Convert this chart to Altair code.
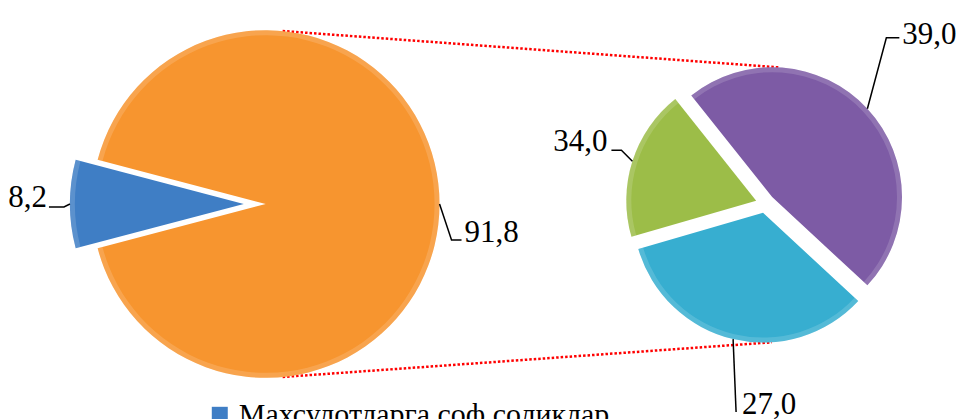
import math
import altair as alt
import pandas as pd

# ---------------- data ----------------
left_keys = ["Махсулотларга соф соликлар", "Бошқа"]
left_values = [8.2, 91.8]
left_text = ["8,2", "91,8"]
left_colors = ["#3F7EC5", "#F7952F"]

right_keys = ["p1", "p2", "p3"]
right_values = [47.6, 33.6, 18.8]          # slice sizes as drawn
right_text = ["39,0", "27,0", "34,0"]
right_colors = ["#7D5BA5", "#37AED0", "#9CBD48"]

legend_values = ["Махсулотларга соф соликлар"]

FONT = "Liberation Serif"

# ---------------- layout (screen px) ----------------
W, H = 949, 403
LEFT = dict(cx=266, cy=204, r=174, start=75 - 8.2 / 2, explode=[22, 0])
RIGHT = dict(cx=766, cy=203.5, r=130, start=89.3, explode=[9.5, 9.5, 9.5])

# label leader bends (relative to the arc point) and text anchors
left_leader = [[(-6, 3), (-21, 3)], [(12, 36), (22, 36)]]
left_anchor = [(-23, 3, "right"), (25, 38, "left")]
right_leader = [[(19, -71), (32, -71)], [(3, 73)], [(-11, -11), (-21, -11)]]
right_anchor = [(35, -65, "left"), (9, 75, "left"), (-25, -10, "right")]


def slices(keys, values, text, geo, leaders, anchors, pie):
    rows, lead, labs = [], [], []
    s = geo["start"]
    for i, (k, v, t) in enumerate(zip(keys, values, text)):
        e = s + v
        mid = (s + e) / 2 / 100 * 2 * math.pi
        d = geo["explode"][i]
        cx = geo["cx"] + d * math.sin(mid)
        cy = geo["cy"] - d * math.cos(mid)
        rows.append(dict(key=k, start=s, end=e, cx=cx, cy=cy))
        px = cx + geo["r"] * math.sin(mid)
        py = cy - geo["r"] * math.cos(mid)
        pts = [(px, py)] + [(px + dx, py + dy) for dx, dy in leaders[i]]
        for j, (x, y) in enumerate(pts):
            lead.append(dict(id=f"{pie}{i}", seq=j, x=x, y=y))
        ax, ay, al = anchors[i]
        labs.append(dict(x=px + ax, y=py + ay, text=t, align=al))
        s = e
    return pd.DataFrame(rows), lead, labs


ldf, llead, llabs = slices(left_keys, left_values, left_text, LEFT,
                           left_leader, left_anchor, "L")
rdf, rlead, rlabs = slices(right_keys, right_values, right_text, RIGHT,
                           right_leader, right_anchor, "R")
lead_df = pd.DataFrame(llead + rlead)
lab_df = pd.DataFrame(llabs + rlabs)

# connector lines between the pies (angles on each pie, percent of turn)
conn = []
for n, (a_left, a_right) in enumerate([(1.55, 0.9), (48.45, 48.9)]):
    al = a_left / 100 * 2 * math.pi
    ar = a_right / 100 * 2 * math.pi
    rc = rdf.iloc[0] if n == 0 else rdf.iloc[1]
    conn.append(dict(
        x=LEFT["cx"] + LEFT["r"] * math.sin(al),
        y=LEFT["cy"] - LEFT["r"] * math.cos(al),
        x2=rc["cx"] + RIGHT["r"] * math.sin(ar),
        y2=rc["cy"] - RIGHT["r"] * math.cos(ar),
    ))
conn_df = pd.DataFrame(conn)

xs = alt.Scale(domain=[8, 8 + W], range=[0, W])
ys = alt.Scale(domain=[8, 8 + H], range=[0, H])
ts = alt.Scale(domain=[0, 100], range=[0, 2 * math.pi])

all_keys = left_keys + right_keys
color = alt.Color(
    "key:N",
    scale=alt.Scale(domain=all_keys, range=left_colors + right_colors),
    legend=alt.Legend(
        values=legend_values, orient="none", legendX=197, legendY=392,
        title=None, symbolType="square", symbolSize=256,
        symbolStrokeWidth=0, labelFont=FONT,
        labelFontSize=30, labelColor="black", padding=0,
        labelLimit=1000, labelOffset=4,
    ),
)


def arcs(df, r):
    return alt.Chart(df).mark_arc(radius=r, strokeWidth=0).encode(
        x=alt.X("cx:Q", scale=xs, axis=None),
        y=alt.Y("cy:Q", scale=ys, axis=None),
        theta=alt.Theta("start:Q", scale=ts, stack=None),
        theta2="end:Q",
        color=color,
    )


def rims(df, r):
    return alt.Chart(df).mark_arc(
        radius=r, radius2=r - 5, color="white", opacity=0.15
    ).encode(
        x=alt.X("cx:Q", scale=xs, axis=None),
        y=alt.Y("cy:Q", scale=ys, axis=None),
        theta=alt.Theta("start:Q", scale=ts, stack=None),
        theta2="end:Q",
    )


connectors = alt.Chart(conn_df).mark_rule(
    color="#FF0000", strokeWidth=2.5, strokeDash=[2.5, 2]
).encode(
    x=alt.X("x:Q", scale=xs, axis=None), y=alt.Y("y:Q", scale=ys, axis=None),
    x2="x2:Q", y2="y2:Q",
)

leaders = alt.Chart(lead_df).mark_line(color="black", strokeWidth=1.5).encode(
    x=alt.X("x:Q", scale=xs, axis=None), y=alt.Y("y:Q", scale=ys, axis=None),
    detail="id:N", order="seq:Q",
)


def labels(df, align):
    return alt.Chart(df[df["align"] == align]).mark_text(
        font=FONT, fontSize=31, color="black",
        align=align, baseline="alphabetic",
    ).encode(
        x=alt.X("x:Q", scale=xs, axis=None), y=alt.Y("y:Q", scale=ys, axis=None),
        text="text:N",
    )


chart = alt.layer(
    connectors,
    arcs(ldf, LEFT["r"]), arcs(rdf, RIGHT["r"]),
    rims(ldf, LEFT["r"]), rims(rdf, RIGHT["r"]),
    leaders, labels(lab_df, "left"), labels(lab_df, "right"),
).properties(width=W, height=H, padding=0, background="white").configure_view(
    stroke=None
)

chart.save("out.html", embed_options={"renderer": "svg", "actions": False})
